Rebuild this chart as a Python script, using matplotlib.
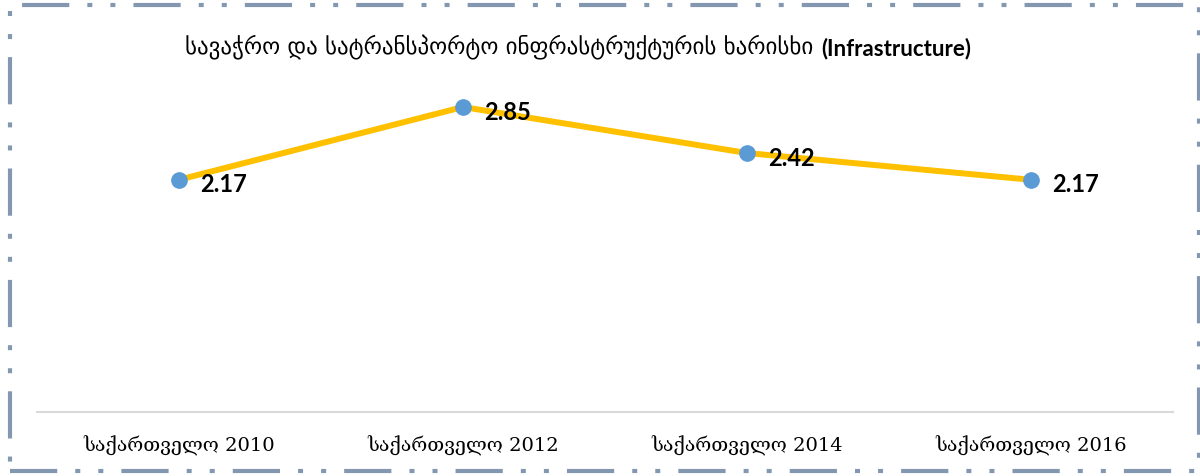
import matplotlib.pyplot as plt
from matplotlib.patches import Rectangle

plt.rcParams['lines.scale_dashes'] = False

# Infrastructure quality scores
categories = ['საქართველო 2010', 'საქართველო 2012', 'საქართველო 2014', 'საქართველო 2016']
values = [2.17, 2.85, 2.42, 2.17]
title_ka = 'სავაჭრო და სატრანსპორტო ინფრასტრუქტურის ხარისხი'
title_en = '(Infrastructure)'

fig = plt.figure(figsize=(12, 4.77), dpi=100)
fig.patch.set_facecolor('white')
ax = fig.add_axes([0.0308, 0.1342, 0.9467, 0.673])

x = list(range(len(categories)))
ax.plot(x, values, color='#FFC000', linewidth=4.3, zorder=2)
ax.plot(x, values, linestyle='none', marker='o', markersize=11,
        color='#5B9BD5', zorder=3)

for xi, v in zip(x, values):
    ax.annotate(f'{v:.2f}', (xi, v), xytext=(15, -3), textcoords='offset points',
                ha='left', va='center', fontsize=17, fontweight='bold',
                family=['Lato', 'DejaVu Sans'], color='black')

ax.set_xlim(-0.5, len(categories) - 0.5)
ax.set_ylim(0, 3)
ax.set_xticks(x)
ax.set_xticklabels(categories, fontsize=14, family=['DejaVu Serif', 'DejaVu Sans'])
ax.tick_params(axis='x', length=0, pad=16)
ax.set_yticks([])
for side in ['top', 'left', 'right']:
    ax.spines[side].set_visible(False)
ax.spines['bottom'].set_color('#D9D9D9')
ax.spines['bottom'].set_linewidth(1.5)

# Title: Georgian part regular, English part bold
fig.text(0.678, 0.901, title_ka, ha='right', va='center', fontsize=16.5,
         family=['DejaVu Sans'])
fig.text(0.684, 0.899, title_en, ha='left', va='center', fontsize=16,
         fontweight='bold', family=['Lato', 'DejaVu Sans'])

# Dash-dot-dot frame around the chart
frame = Rectangle((0.008, 0.011), 0.991, 0.976, transform=fig.transFigure,
                  fill=False, edgecolor='#8497B0', linewidth=3,
                  linestyle=(0, (34, 13, 3.6, 13, 3.6, 13)), zorder=10)
fig.patches.append(frame)

fig.savefig('out.png', dpi=100)
